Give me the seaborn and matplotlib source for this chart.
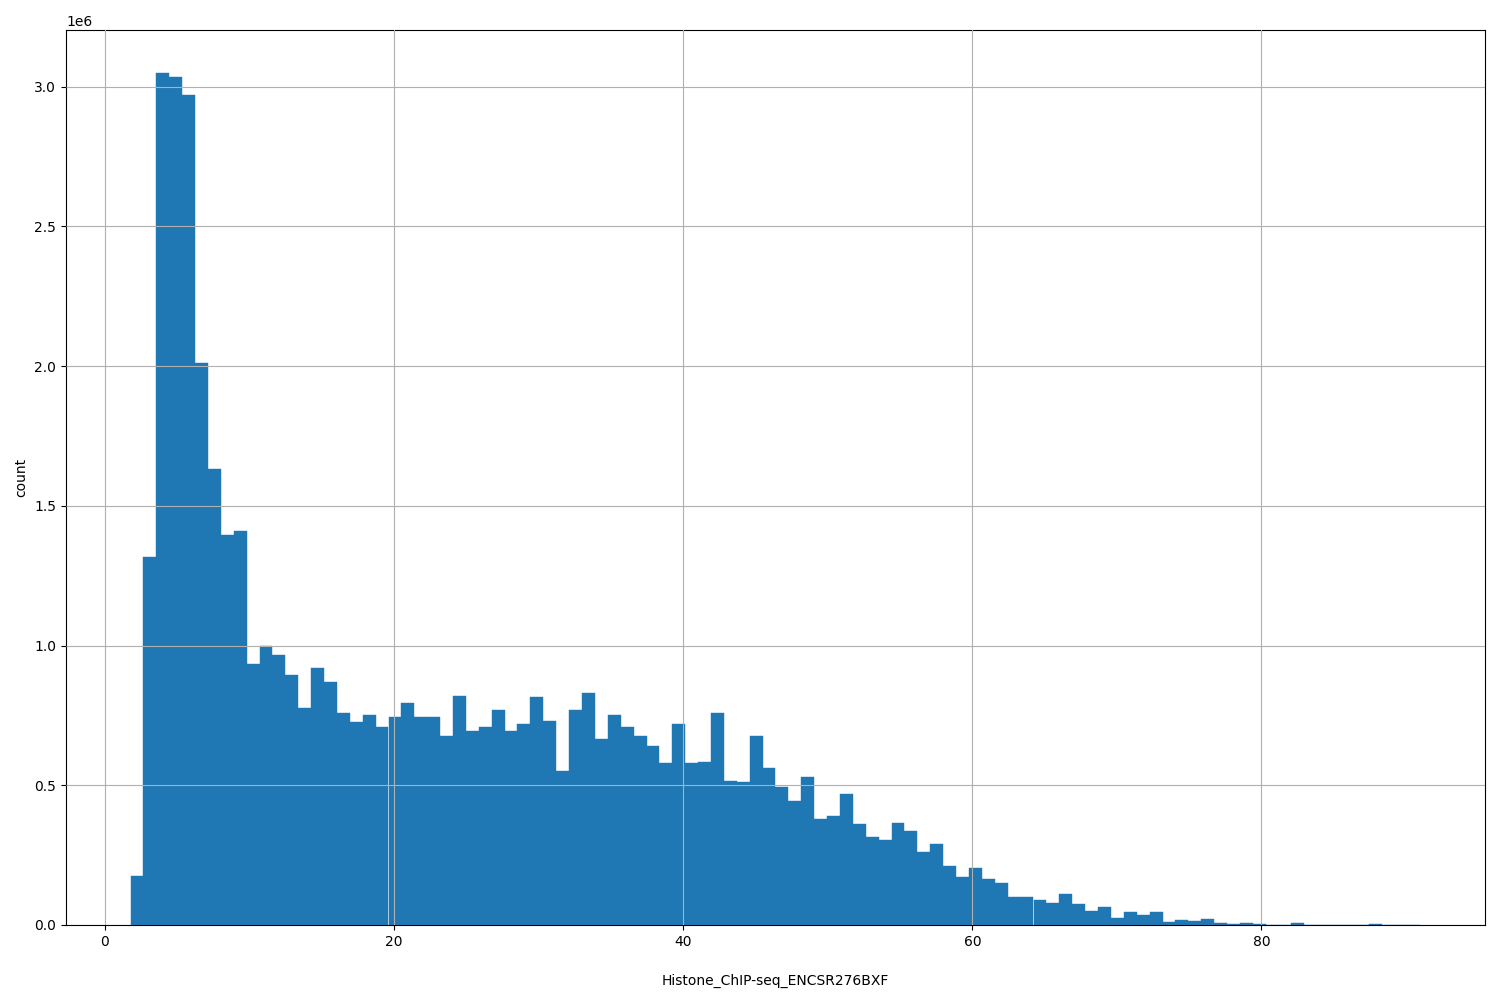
import numpy as np
import pandas as pd
import matplotlib
matplotlib.use("Agg")
import matplotlib.pyplot as plt
import seaborn as sns

x_min, x_max, n_bins = 1.77, 91.0, 100
counts_m = [0.175,1.315,3.05,3.035,2.97,2.01,1.63,1.395,1.41,0.935,
            1.0,0.965,0.895,0.775,0.92,0.87,0.76,0.725,0.75,0.71,
            0.745,0.795,0.745,0.745,0.675,0.82,0.695,0.71,0.77,0.695,
            0.72,0.815,0.73,0.55,0.77,0.83,0.665,0.75,0.71,0.675,
            0.64,0.58,0.72,0.58,0.585,0.76,0.515,0.51,0.675,0.56,
            0.495,0.445,0.53,0.38,0.39,0.47,0.36,0.315,0.305,0.365,
            0.335,0.26,0.29,0.21,0.17,0.205,0.165,0.15,0.1,0.1,
            0.09,0.08,0.11,0.075,0.05,0.065,0.025,0.045,0.035,0.045,
            0.012,0.018,0.015,0.022,0.008,0.004,0.007,0.002,0.0,0.0,
            0.007,0.0,0.0,0.0,0.0,0.0,0.004,0.0,0.0,0.001]

edges = np.linspace(x_min, x_max, n_bins + 1)
df = pd.DataFrame({"v": (edges[:-1] + edges[1:]) / 2,
                   "w": np.array(counts_m) * 1e6})

fig, ax = plt.subplots(figsize=(15, 10), dpi=100)
sns.histplot(data=df, x="v", weights="w", bins=n_bins, binrange=(x_min, x_max),
             ax=ax, color="#1f77b4", alpha=1.0, edgecolor="#1f77b4", linewidth=0.3)
ax.set_axisbelow(False)
ax.grid(True, color="#b0b0b0", linewidth=0.8)
ax.set_xlabel("Histone_ChIP-seq_ENCSR276BXF", labelpad=18)
ax.set_ylabel("count")
ax.margins(x=0.05)
fig.subplots_adjust(left=0.044, right=0.99, top=0.97, bottom=0.075)
fig.savefig("out.png")
